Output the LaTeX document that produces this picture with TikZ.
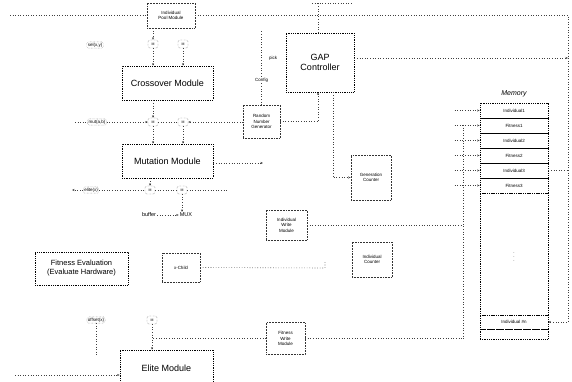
\documentclass[tikz,border=0pt]{standalone}
\usepackage{fontspec}
\setmainfont{Liberation Sans}
\usetikzlibrary{arrows.meta,calc}
\begin{document}
\begin{tikzpicture}[x=1pt,y=-1pt,
 box/.style={draw, densely dotted, line width=0.8pt, align=center, inner sep=1pt, font=\fontsize{9}{10.5}\selectfont},
 sbox/.style={draw=black!80, densely dotted, line width=0.55pt, align=center, inner sep=1pt, font=\fontsize{4.5}{5.5}\selectfont},
 wire/.style={draw=black!75, dotted, line width=0.6pt},
 arr/.style={wire, -{Stealth[length=2.5pt,width=2pt]}},
 lbl/.style={font=\fontsize{4.5}{5}\selectfont, inner sep=1pt, draw=black!50, densely dotted, rounded corners=1.5pt, fill=white},
 tlbl/.style={font=\fontsize{4.5}{5}\selectfont, inner sep=1pt, fill=white},
 muxb/.style={draw=black!70, densely dotted, rounded corners=2pt, minimum width=10pt, minimum height=8pt, inner sep=0pt, font=\fontsize{3.5}{4}\selectfont},
 memrow/.style={draw, densely dotted, line width=0.8pt, minimum width=68pt, inner sep=0pt, font=\fontsize{4.5}{5}\selectfont}
]
\useasboundingbox (0,0) rectangle (572,382);

% main modules
\node[box, minimum width=91pt, minimum height=34pt] (cross) at (167.5,83) {Crossover Module};
\node[box, minimum width=91pt, minimum height=34pt] (mut) at (167.5,161) {Mutation Module};
\node[box, minimum width=93pt, minimum height=36pt] (elite) at (166.5,368) {Elite Module};
\node[box, minimum width=68pt, minimum height=59pt] (gap) at (320,62.5) {GAP\\Controller};
\node[box, minimum width=93pt, minimum height=33pt, font=\fontsize{7.5}{9}\selectfont] (fit) at (81.5,268.5) {Fitness Evaluation\\(Evaluate Hardware)};

% small modules
\node[sbox, minimum width=48pt, minimum height=25pt] (ipm) at (171,15.5) {Individual\\Pool Module};
\node[sbox, minimum width=37pt, minimum height=33pt] (rng) at (261.5,121.5) {Random\\Number\\Generator};
\node[sbox, minimum width=40pt, minimum height=45pt] (gen) at (371,177.5) {Generation\\Counter};
\node[sbox, minimum width=41pt, minimum height=30pt] (iwm) at (286.5,225) {Individual\\Write\\Module};
\node[sbox, minimum width=40pt, minimum height=35pt] (ind) at (372,259.5) {Individual\\Counter};
\node[sbox, minimum width=38pt, minimum height=29pt] (xch) at (181,267.5) {x-Child};
\node[sbox, minimum width=39pt, minimum height=32pt] (fwm) at (285.5,338.5) {Fitness\\Write\\Module};

% memory
\node[font=\itshape\fontsize{7}{8}\selectfont] (memt) at (514,94) {Memory};
\node[memrow, minimum height=15pt] (m1) at (514,110.5) {Individual1};
\node[memrow, minimum height=15pt] (m2) at (514,125.5) {Fitness1};
\node[memrow, minimum height=15pt] (m3) at (514,140.5) {Individual2};
\node[memrow, minimum height=15pt] (m4) at (514,155.5) {Fitness2};
\node[memrow, minimum height=15pt] (m5) at (514,170.5) {Individual3};
\node[memrow, minimum height=15pt] (m6) at (514,185.5) {Fitness3};
\node[memrow, minimum height=122pt] (m7) at (514,254) {$\vdots$};
\node[memrow, minimum height=14pt] (m8) at (514,322) {Individual \#n};
\node[memrow, minimum height=10pt] (m9) at (514,334) {};

% multiplexers and labels
\node[muxb] (mx1) at (153,44) {M};
\node[muxb] (mx2) at (183,44) {M};
\node[muxb] (mx3) at (153,122) {M};
\node[muxb] (mx4) at (183,122) {M};
\node[muxb] (mx5) at (150,190) {M};
\node[muxb] (mx6) at (182,190) {M};
\node[muxb] (mx7) at (152,320) {M};
\node[lbl] (sel) at (95,45) {sel(x,y)};
\node[lbl] (mutl) at (97,122) {mut(a,b)};
\node[lbl] (elil) at (91,190) {elite(x)};
\node[lbl] (offl) at (96,320) {offset(x)};
\node[tlbl, font=\fontsize{5.5}{6}\selectfont] (buf) at (149,215) {buffer};
\node[tlbl, font=\fontsize{5.5}{6}\selectfont] (muxl) at (186,215) {MUX};

% coordinates
\coordinate (tl) at (10,15);
\coordinate (tr) at (568,15);
\coordinate (gr) at (568,58);
\coordinate (gt) at (318,3);
\coordinate (gt1) at (312,3);
\coordinate (gt2) at (352,3);
\coordinate (in1) at (75,122);
\coordinate (in3) at (72,190);
\coordinate (o3) at (227,190);
\coordinate (mr) at (263,163);
\coordinate (rt) at (261.5,30);
\coordinate (busT) at (463,125);
\coordinate (busB) at (463,339);
\coordinate (xe) at (325,268);
\coordinate (xu) at (325,261);
\coordinate (el) at (15,375);
\coordinate (ofb) at (96,356);

% top lines
\draw[wire] (tl) -- (ipm.west |- tl);
\draw[arr] (ipm.east |- tr) -- (tr) |- (m8.east);
\draw[arr] (gap.east |- gr) -- (gr);
\draw[wire] (gap.north -| gt) -- (gt);
\draw[wire] (gt1) -- (gt2);

% crossover column
\draw[arr] (ipm.south -| mx1) -- (mx1);
\draw[arr] (mx1) -- (mx1 |- cross.north);
\draw[arr] (mx2) -- (mx2 |- cross.north);
\draw[arr] (cross.south -| mx3) -- (mx3);
\draw[arr] (mx3) -- (mx3 |- mut.north);
\draw[arr] (mx4) -- (mx4 |- mut.north);
\draw[wire] (in1) -- (mutl);
\draw[arr] (mutl) -- (mx3);
\draw[wire] (mx3) -- (mx4);
\draw[arr] (rng.west |- mx4) -- (mx4);

% mutation row
\draw[arr] (mut.south -| mx5) -- (mx5);
\draw[arr] (elil) -- (in3);
\draw[wire] (elil) -- (mx5);
\draw[wire] (mx5) -- (mx6);
\draw[wire] (mx6) -- (o3);
\draw[arr] (mx6) -- (mx6 |- muxl.north);
\draw[arr] (buf) -- (muxl);
\draw[arr] (mut.east |- mr) -- (mr);

% RNG and controller
\draw[wire] (rng.north) -- (rt);
\node[tlbl] (cfg) at (261.5,80) {Config};
\node[tlbl] (pick) at (273,58) {pick};
\draw[arr] (rng.east) -| ($(gap.south)+(-2,0)$);
\draw[arr] ($(gap.south)+(13,0)$) |- (gen.west);

% memory bus
\draw[wire] (busT) -- (busB);
\draw[wire] (fwm.east) -- (fwm.east -| busB);
\draw[wire] (iwm.east) -- (iwm.east -| busB);
\foreach \r in {m1,m2,m3,m4,m5,m6}{
  \draw[arr] ($(\r.west)+(-25,0)$) -- (\r.west);
}
\draw[wire] (m5.east) -- (m5.east -| tr);

% fitness / x-child
\draw[wire] (xch.east) -- (xe) -- (xu);

% elite
\draw[wire] (offl) -- (ofb);
\draw[arr] (mx7) -- (mx7 |- elite.north);
\draw[wire] (fwm.west) -- (fwm.west -| mx7);
\draw[arr] (el) -- (elite.west |- el);
\end{tikzpicture}
\end{document}
